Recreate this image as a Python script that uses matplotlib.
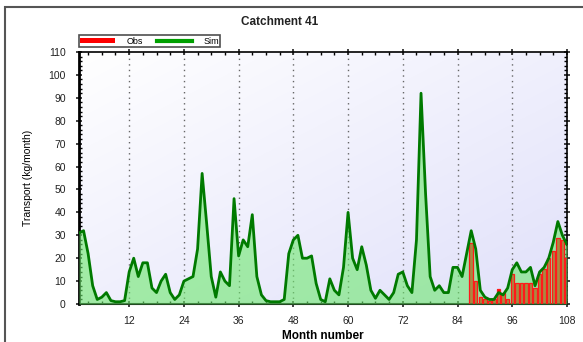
import matplotlib.pyplot as plt
import numpy as np
from matplotlib.patches import Patch, Rectangle
from matplotlib.lines import Line2D
from matplotlib.ticker import MultipleLocator

plt.rcParams['font.family'] = ['Liberation Sans', 'DejaVu Sans']

# Monthly sediment transport, catchment 41
months = np.arange(1, 109)
sim = [31, 32, 22, 8, 2, 3, 5, 1.5, 1, 1, 1.5, 14,
       20, 12, 18, 18, 7, 5, 10, 13, 5, 2, 4, 10,
       11, 12, 24, 57, 35, 12, 3, 14, 10, 8, 46, 21,
       28, 25, 39, 12, 4, 1.5, 1, 1, 1, 2, 22, 28,
       30, 20, 20, 21, 9, 2, 1, 11, 6, 4, 16, 40,
       20, 15, 25, 17, 6, 2.5, 6, 4, 2, 5, 13, 14,
       8, 5, 28, 92, 48, 12, 6, 8, 5, 5, 16, 16,
       12, 22, 32, 24, 6, 3, 2, 2, 5, 4, 7, 15,
       18, 14, 14, 16, 8, 14, 16, 20, 27, 36, 30, 26]

obs_months = np.arange(87, 109)
obs = [26.5, 10, 3, 2, 1.5, 2, 6.5, 5, 2, 13,
       9, 9, 9, 9, 7, 13, 15.5, 20, 23, 29, 28, 20]

fig = plt.figure(figsize=(5.83, 3.42), dpi=100)
ax = fig.add_axes([0.1355, 0.111, 0.837, 0.737])

# soft white-to-lavender backdrop
gx, gy = np.meshgrid(np.linspace(0, 1, 200), np.linspace(1, 0, 200))
grad = np.clip((gx + (1 - gy)) / 2, 0, 1)
top = np.array([1.0, 1.0, 1.0])
bot = np.array([0.88, 0.88, 0.98])
img = top + (bot - top) * grad[..., None]
ax.imshow(img, extent=[0, 1, 0, 1], transform=ax.transAxes,
          aspect='auto', zorder=0)

ax.bar(obs_months, obs, width=0.75, color='#ff0000', lw=0, zorder=2)
ax.fill_between(months, sim, color='#6ee86e', alpha=0.6, lw=0, zorder=3)
# bar outlines stay red above the translucent fill
ax.bar(obs_months, obs, width=0.75, facecolor='none', edgecolor='#ff1a1a',
       linewidth=0.9, zorder=3.5)
ax.plot(months, sim, color='#007a00', lw=2, zorder=4)

for m in range(12, 108, 12):
    ax.axvline(m, color='#666666', ls=(0, (1, 3)), lw=1, zorder=1)

ax.set_xlim(1, 108)
ax.set_ylim(0, 110)
ax.set_xticks(range(12, 109, 12))
ax.set_yticks(range(0, 111, 10))
ax.xaxis.set_minor_locator(MultipleLocator(3))
ax.yaxis.set_minor_locator(MultipleLocator(2))
ax.tick_params(axis='both', which='major', direction='inout', length=5,
               width=1.2, labelsize=7.5, colors='#222222',
               top=True, right=True)
ax.tick_params(axis='y', which='major', pad=7)
ax.tick_params(axis='x', which='major', pad=6)
ax.tick_params(axis='both', which='minor', direction='in', length=2.5,
               width=1, top=True, right=True)
for s in ax.spines.values():
    s.set_linewidth(1.2)
ax.spines['left'].set_linewidth(2)
ax.spines['bottom'].set_linewidth(1.5)

ax.set_xlabel('Month number', fontsize=8.5, fontweight='bold', labelpad=3)
ax.set_ylabel('Transport (kg/month)', fontsize=7.5, labelpad=11)
fig.text(0.48, 0.935, 'Catchment 41', ha='center', va='center',
         fontsize=8.5, fontweight='bold', color='#222222')

handles = [Patch(facecolor='#ff0000', edgecolor='none'),
           Line2D([], [], color='#00a000', lw=3)]
leg = ax.legend(handles, ['Obs', 'Sim'], ncol=2, loc='lower left',
                bbox_to_anchor=(0.0, 1.02), fontsize=6.5, frameon=True,
                fancybox=False, borderpad=0.15, handlelength=3.8,
                handleheight=0.5, handletextpad=1.3, columnspacing=1.6,
                borderaxespad=0)
leg.get_frame().set_edgecolor('#222222')
leg.get_frame().set_linewidth(1.2)

# outer frame around the whole panel
fig.patches.append(Rectangle((5 / 583, -0.05), 1.0, 1.05 - 7 / 342,
                             transform=fig.transFigure, fill=False,
                             edgecolor='#555555', lw=1.5))

fig.savefig('out.png', dpi=100)
